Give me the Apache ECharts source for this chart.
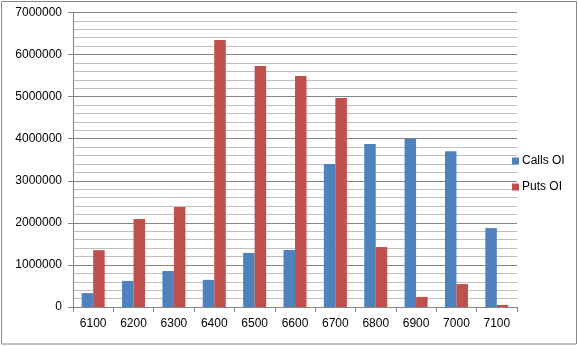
<!DOCTYPE html>
<html><head><meta charset="utf-8">
<script src="https://cdn.jsdelivr.net/npm/echarts@6/dist/echarts.min.js"></script>
<style>html,body{margin:0;padding:0;background:#fff}#c{width:578px;height:346px}</style>
</head><body><div id="c"></div>
<script>
const categories = ['6100','6200','6300','6400','6500','6600','6700','6800','6900','7000','7100'];
const callsOI = [330000, 620000, 855000, 645000, 1285000, 1355000, 3400000, 3875000, 4000000, 3705000, 1875000];
const putsOI = [1350000, 2090000, 2375000, 6345000, 5730000, 5490000, 4970000, 1425000, 240000, 545000, 50000];
const seriesNames = ['Calls OI', 'Puts OI'];
const colors = ['#4F81BD', '#C0504D'];

const chart = echarts.init(document.getElementById('c'), null, {renderer: 'canvas'});
const font = 'Liberation Sans';
chart.setOption({
  animation: false,
  color: colors,
  textStyle: {fontFamily: font},
  grid: {left: 73, right: 61, top: 12.5, bottom: 39, containLabel: false},
  legend: {
    orient: 'vertical', left: 512, top: 155, padding: 0,
    itemWidth: 7, itemHeight: 7, itemGap: 14,
    icon: 'rect',
    textStyle: {fontSize: 12, color: '#000', padding: [0, 0, 0, -2]},
    data: seriesNames
  },
  xAxis: {
    type: 'category', data: categories,
    axisLine: {lineStyle: {color: '#868686'}},
    axisTick: {show: true, length: 5, lineStyle: {color: '#868686'}},
    axisLabel: {color: '#000', fontSize: 12, margin: 11}
  },
  yAxis: {
    type: 'value', min: 0, max: 7000000, interval: 1000000,
    axisLine: {show: true, lineStyle: {color: '#868686'}},
    axisTick: {show: true, length: 5, lineStyle: {color: '#868686'}},
    axisLabel: {color: '#000', fontSize: 12, margin: 11, formatter: v => String(v)},
    splitLine: {lineStyle: {color: '#868686'}},
    minorTick: {show: false, splitNumber: 5},
    minorSplitLine: {show: true, lineStyle: {color: '#bfbfbf'}}
  },
  series: [
    {name: seriesNames[0], type: 'bar', data: callsOI, barGap: '0%', barCategoryGap: '43%'},
    {name: seriesNames[1], type: 'bar', data: putsOI, barGap: '0%', barCategoryGap: '43%'}
  ],
  graphic: [{
    type: 'rect', shape: {x: 1.5, y: 1.5, width: 575, height: 342.5},
    style: {fill: null, stroke: '#868686', lineWidth: 1}, silent: true
  }]
});
</script></body></html>
